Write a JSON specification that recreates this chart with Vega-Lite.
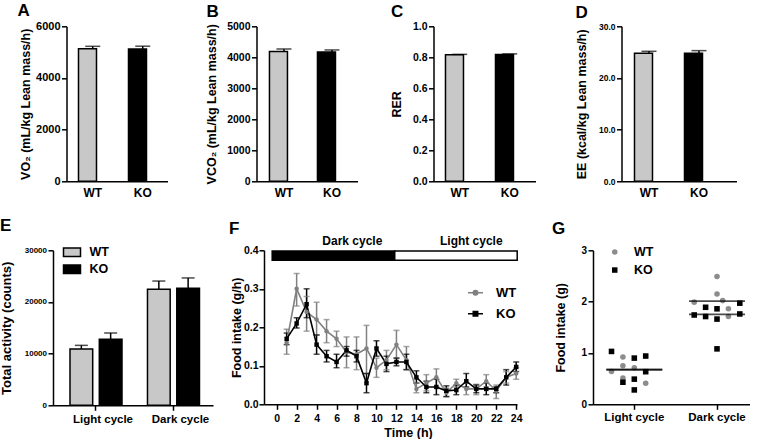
{
"$schema": "https://vega.github.io/schema/vega-lite/v6.json",
"background": "white",
"padding": {"left": 0, "top": 1.3, "right": 0, "bottom": 0},
"config": {
  "font": "Liberation Sans",
  "view": {"stroke": null},
  "axis": {"domainColor": "black", "domainWidth": 1.5, "tickColor": "black", "tickWidth": 1.5, "tickSize": 5, "labelFont": "Liberation Sans", "labelFontWeight": "bold", "labelColor": "black", "titleFont": "Liberation Sans", "titleFontWeight": "bold", "titleColor": "black", "titleFontSize": 12.5, "grid": false, "labelPadding": 1.5, "labelOverlap": false, "labelFlush": false, "labelAngle": 0},
  "legend": {"labelFont": "Liberation Sans", "labelFontWeight": "bold", "labelColor": "black", "padding": 0},
  "title": {"font": "Liberation Sans", "fontSize": 17, "fontWeight": "bold", "color": "black", "anchor": "start", "frame": "group", "baseline": "alphabetic"}
},
"spacing": 19,
"center": true,
"resolve": {"scale": {"color": "independent", "shape": "independent", "fill": "independent"}, "legend": {"color": "independent", "shape": "independent", "fill": "independent"}},
"vconcat": [
{
 "spacing": 33,
 "resolve": {"scale": {"color": "independent", "shape": "independent", "fill": "independent"}, "legend": {"color": "independent", "shape": "independent", "fill": "independent"}},
 "hconcat": [
 {
  "spacing": 38,
  "resolve": {"scale": {"color": "independent", "shape": "independent", "fill": "independent"}, "legend": {"color": "independent", "shape": "independent", "fill": "independent"}},
  "hconcat": [
  {
   "width": 101, "height": 155,
   "title": {"text": "A", "dx": -49, "offset": 0.7},
   "data": {"values": [{"g": "WT", "mean": 5130, "hi": 5225}, {"g": "KO", "mean": 5120, "hi": 5230}]},
   "encoding": {"x": {"field": "g", "type": "nominal", "title": null, "scale": {"domain": ["WT", "KO"], "paddingInner": 0.43, "paddingOuter": 0.225, "align": 0.533}, "axis": {"ticks": false, "tickSize": 0, "labelFontSize": 12, "labelPadding": 6}}},
   "layer": [
    {"mark": {"type": "bar", "stroke": "black", "strokeWidth": 1.5}, "encoding": {"y": {"field": "mean", "type": "quantitative", "stack": null, "scale": {"domain": [0, 6000], "nice": false}, "axis": {"title": "VO₂ (mL/kg Lean mass/h)", "values": [0, 2000, 4000, 6000], "tickCount": 50, "format": "d", "labelFontSize": 11, "titlePadding": 3.3}}, "color": {"field": "g", "type": "nominal", "scale": {"domain": ["WT", "KO"], "range": ["#c8c8c8", "#000000"]}, "legend": null}}},
    {"mark": {"type": "rule", "color": "black", "strokeWidth": 1.5}, "encoding": {"y": {"field": "mean", "type": "quantitative"}, "y2": {"field": "hi"}}},
    {"mark": {"type": "tick", "orient": "horizontal", "color": "black", "thickness": 1.5, "size": 15}, "encoding": {"y": {"field": "hi", "type": "quantitative"}}}
   ]
  },
  {
   "width": 101, "height": 155,
   "title": {"text": "B", "dx": -50, "offset": 0.7},
   "data": {"values": [{"g": "WT", "mean": 4184, "hi": 4268}, {"g": "KO", "mean": 4173, "hi": 4237}]},
   "encoding": {"x": {"field": "g", "type": "nominal", "title": null, "scale": {"domain": ["WT", "KO"], "paddingInner": 0.396, "paddingOuter": 0.25, "align": 0.54}, "axis": {"ticks": false, "tickSize": 0, "labelFontSize": 12, "labelPadding": 6}}},
   "layer": [
    {"mark": {"type": "bar", "stroke": "black", "strokeWidth": 1.5}, "encoding": {"y": {"field": "mean", "type": "quantitative", "stack": null, "scale": {"domain": [0, 5000], "nice": false}, "axis": {"title": "VCO₂ (mL/kg Lean mass/h)", "values": [0, 1000, 2000, 3000, 4000, 5000], "tickCount": 50, "format": "d", "labelFontSize": 10.5, "titlePadding": 7.85}}, "color": {"field": "g", "type": "nominal", "scale": {"domain": ["WT", "KO"], "range": ["#c8c8c8", "#000000"]}, "legend": null}}},
    {"mark": {"type": "rule", "color": "black", "strokeWidth": 1.5}, "encoding": {"y": {"field": "mean", "type": "quantitative"}, "y2": {"field": "hi"}}},
    {"mark": {"type": "tick", "orient": "horizontal", "color": "black", "thickness": 1.5, "size": 15}, "encoding": {"y": {"field": "hi", "type": "quantitative"}}}
   ]
  }
  ]
 },
 {
  "spacing": 40,
  "resolve": {"scale": {"color": "independent", "shape": "independent", "fill": "independent"}, "legend": {"color": "independent", "shape": "independent", "fill": "independent"}},
  "hconcat": [
  {
   "width": 102, "height": 155,
   "title": {"text": "C", "dx": -42.5, "offset": 0.7},
   "data": {"values": [{"g": "WT", "mean": 0.817, "hi": 0.819}, {"g": "KO", "mean": 0.818, "hi": 0.822}]},
   "encoding": {"x": {"field": "g", "type": "nominal", "title": null, "scale": {"domain": ["WT", "KO"], "paddingInner": 0.43, "paddingOuter": 0.235, "align": 0.51}, "axis": {"ticks": false, "tickSize": 0, "labelFontSize": 12, "labelPadding": 6}}},
   "layer": [
    {"mark": {"type": "bar", "stroke": "black", "strokeWidth": 1.5}, "encoding": {"y": {"field": "mean", "type": "quantitative", "stack": null, "scale": {"domain": [0, 1], "nice": false}, "axis": {"title": "RER", "values": [0, 0.2, 0.4, 0.6, 0.8, 1.0], "tickCount": 50, "format": ".1f", "labelFontSize": 10.5, "titlePadding": 8.9}}, "color": {"field": "g", "type": "nominal", "scale": {"domain": ["WT", "KO"], "range": ["#c8c8c8", "#000000"]}, "legend": null}}},
    {"mark": {"type": "rule", "color": "black", "strokeWidth": 1.5}, "encoding": {"y": {"field": "mean", "type": "quantitative"}, "y2": {"field": "hi"}}},
    {"mark": {"type": "tick", "orient": "horizontal", "color": "black", "thickness": 1.5, "size": 15}, "encoding": {"y": {"field": "hi", "type": "quantitative"}}}
   ]
  },
  {
   "width": 115, "height": 155,
   "title": {"text": "D", "dx": -46, "offset": 0.7},
   "data": {"values": [{"g": "WT", "mean": 24.77, "hi": 25.16}, {"g": "KO", "mean": 24.77, "hi": 25.29}]},
   "encoding": {"x": {"field": "g", "type": "nominal", "title": null, "scale": {"domain": ["WT", "KO"], "paddingInner": 0.42, "paddingOuter": 0.36, "align": 0.361}, "axis": {"ticks": false, "tickSize": 0, "labelFontSize": 12, "labelPadding": 6}}},
   "layer": [
    {"mark": {"type": "bar", "stroke": "black", "strokeWidth": 1.5}, "encoding": {"y": {"field": "mean", "type": "quantitative", "stack": null, "scale": {"domain": [0, 30], "nice": false}, "axis": {"title": "EE (kcal/kg Lean mass/h)", "values": [0, 10, 20, 30], "tickCount": 50, "format": ".1f", "labelFontSize": 8.5, "titlePadding": 9.7}}, "color": {"field": "g", "type": "nominal", "scale": {"domain": ["WT", "KO"], "range": ["#c8c8c8", "#000000"]}, "legend": null}}},
    {"mark": {"type": "rule", "color": "black", "strokeWidth": 1.5}, "encoding": {"y": {"field": "mean", "type": "quantitative"}, "y2": {"field": "hi"}}},
    {"mark": {"type": "tick", "orient": "horizontal", "color": "black", "thickness": 1.5, "size": 15}, "encoding": {"y": {"field": "hi", "type": "quantitative"}}}
   ]
  }
  ]
 }
 ]
},
{
 "spacing": 29,
 "resolve": {"scale": {"color": "independent", "shape": "independent", "fill": "independent"}, "legend": {"color": "independent", "shape": "independent", "fill": "independent"}},
 "hconcat": [
 {
  "spacing": 16,
  "resolve": {"scale": {"color": "independent", "shape": "independent", "fill": "independent"}, "legend": {"color": "independent", "shape": "independent", "fill": "independent"}},
  "hconcat": [
  {
   "width": 160, "height": 155,
   "title": {"text": "E", "dx": -53, "offset": 7.5},
   "data": {"values": [{"cycle": "Light cycle", "g": "WT", "mean": 10900, "hi": 11600}, {"cycle": "Light cycle", "g": "KO", "mean": 12800, "hi": 14000}, {"cycle": "Dark cycle", "g": "WT", "mean": 22450, "hi": 24050}, {"cycle": "Dark cycle", "g": "KO", "mean": 22650, "hi": 24650}]},
   "encoding": {
    "x": {"field": "cycle", "type": "nominal", "title": null, "scale": {"type": "band", "domain": ["Light cycle", "Dark cycle"], "paddingInner": 0.329, "paddingOuter": 0.197, "align": 0.557}, "axis": {"labelFontSize": 11.5, "labelPadding": 3.5, "labelOffset": 7}}
   },
   "layer": [
    {"transform": [{"filter": "datum.g === 'WT'"}],
     "mark": {"type": "bar", "width": 22.7, "xOffset": -14.65, "stroke": "black", "strokeWidth": 1.5},
     "encoding": {
      "y": {"field": "mean", "type": "quantitative", "stack": null, "scale": {"domain": [0, 30000], "nice": false}, "axis": {"title": "Total activity (counts)", "values": [0, 10000, 20000, 30000], "tickCount": 50, "format": "d", "labelFontSize": 8, "titleFontSize": 13, "titlePadding": 10.3}},
      "color": {"field": "g", "type": "nominal", "scale": {"domain": ["WT", "KO"], "range": ["#c8c8c8", "#000000"]}, "legend": {"orient": "none", "legendX": 9.5, "legendY": -7.5, "title": null, "symbolType": "M-1,-0.5L1,-0.5L1,0.5L-1,0.5Z", "symbolSize": 289, "labelFontSize": 12.5, "labelOffset": 8, "rowPadding": -0.5, "encode": {"symbols": {"update": {"stroke": {"value": "black"}, "strokeWidth": {"value": 1.5}}}}}}
     }},
    {"transform": [{"filter": "datum.g === 'KO'"}],
     "mark": {"type": "bar", "width": 22.7, "xOffset": 14.65, "stroke": "black", "strokeWidth": 1.5},
     "encoding": {
      "y": {"field": "mean", "type": "quantitative", "stack": null},
      "color": {"field": "g", "type": "nominal", "scale": {"domain": ["WT", "KO"], "range": ["#c8c8c8", "#000000"]}, "legend": {"orient": "none", "legendX": 9.5, "legendY": -7.5, "title": null, "symbolType": "M-1,-0.5L1,-0.5L1,0.5L-1,0.5Z", "symbolSize": 289, "labelFontSize": 12.5, "labelOffset": 8, "rowPadding": -0.5, "encode": {"symbols": {"update": {"stroke": {"value": "black"}, "strokeWidth": {"value": 1.5}}}}}}
     }},
    {"transform": [{"filter": "datum.g === 'WT'"}],
     "mark": {"type": "rule", "xOffset": -14.65, "color": "black", "strokeWidth": 1.5},
     "encoding": {"y": {"field": "mean", "type": "quantitative"}, "y2": {"field": "hi"}}},
    {"transform": [{"filter": "datum.g === 'KO'"}],
     "mark": {"type": "rule", "xOffset": 14.65, "color": "black", "strokeWidth": 1.5},
     "encoding": {"y": {"field": "mean", "type": "quantitative"}, "y2": {"field": "hi"}}},
    {"transform": [{"filter": "datum.g === 'WT'"}],
     "mark": {"type": "tick", "orient": "horizontal", "xOffset": -14.65, "color": "black", "thickness": 1.5, "size": 13},
     "encoding": {"y": {"field": "hi", "type": "quantitative"}}},
    {"transform": [{"filter": "datum.g === 'KO'"}],
     "mark": {"type": "tick", "orient": "horizontal", "xOffset": 14.65, "color": "black", "thickness": 1.5, "size": 13},
     "encoding": {"y": {"field": "hi", "type": "quantitative"}}}
   ]
  },
  {
   "width": 253, "height": 154,
   "title": {"text": "F", "dx": -35, "dy": 5.1, "offset": 1.5},
   "layer": [
    {"data": {"values": [{"phase": "Dark", "x0": -0.45, "x1": 11.83, "y0": 0.374, "y1": 0.398}, {"phase": "Light", "x0": 11.83, "x1": 24.1, "y0": 0.374, "y1": 0.398}]},
     "mark": {"type": "rect", "stroke": "black", "strokeWidth": 1.5},
     "encoding": {
      "x": {"field": "x0", "type": "quantitative", "scale": {"domain": [-1.27, 24.08], "nice": false, "zero": false}, "axis": {"title": "Time (h)", "values": [0, 2, 4, 6, 8, 10, 12, 14, 16, 18, 20, 22, 24], "tickCount": 50, "format": "d", "labelFontSize": 10.5, "labelPadding": 4, "titlePadding": 3, "titleX": 144}},
      "x2": {"field": "x1"},
      "y": {"field": "y0", "type": "quantitative", "scale": {"domain": [0, 0.4], "nice": false}, "axis": {"title": "Food intake (g/h)", "values": [0, 0.1, 0.2, 0.3, 0.4], "tickCount": 50, "format": ".1f", "labelFontSize": 10.5, "labelPadding": 1, "titlePadding": 0}},
      "y2": {"field": "y1"},
      "fill": {"field": "phase", "type": "nominal", "scale": {"domain": ["Dark", "Light"], "range": ["#000000", "#ffffff"]}, "legend": null}
     }},
    {"data": {"values": [{"label": "Dark cycle", "lx": 7.58, "ly": 0.415}, {"label": "Light cycle", "lx": 19.5, "ly": 0.415}]},
     "mark": {"type": "text", "fontSize": 12, "fontWeight": "bold", "baseline": "alphabetic", "align": "center", "color": "black"},
     "encoding": {"x": {"field": "lx", "type": "quantitative"}, "y": {"field": "ly", "type": "quantitative"}, "text": {"field": "label"}}},
    {"data": {"name": "fs"}, "mark": {"type": "rule", "strokeWidth": 1.5},
     "encoding": {"x": {"field": "h", "type": "quantitative"}, "y": {"field": "lo", "type": "quantitative"}, "y2": {"field": "hi"}, "color": {"field": "g", "type": "nominal", "scale": {"domain": ["WT", "KO"], "range": ["#808080", "#000000"]}, "legend": {"orient": "none", "legendX": 203, "legendY": 34, "title": null, "symbolSize": 225, "labelFontSize": 13, "labelOffset": 12, "rowPadding": 5, "encode": {"symbols": {"update": {"shape": {"signal": "datum.value === 'WT' ? 'M-1,0L1,0M-0.3,0A0.3,0.3,0,1,1,0.3,0A0.3,0.3,0,1,1,-0.3,0Z' : 'M-1,0L1,0M-0.3,-0.3L0.3,-0.3L0.3,0.3L-0.3,0.3Z'"}, "fill": {"signal": "datum.value === 'WT' ? '#808080' : '#000000'"}, "stroke": {"signal": "datum.value === 'WT' ? '#808080' : '#000000'"}, "strokeWidth": {"value": 1.5}, "opacity": {"value": 1}}}}}}}},
    {"data": {"name": "fs"}, "mark": {"type": "tick", "orient": "horizontal", "thickness": 1.5, "size": 6},
     "encoding": {"x": {"field": "h", "type": "quantitative"}, "y": {"field": "lo", "type": "quantitative"}, "color": {"field": "g", "type": "nominal", "scale": {"domain": ["WT", "KO"], "range": ["#808080", "#000000"]}, "legend": {"orient": "none", "legendX": 203, "legendY": 34, "title": null, "symbolSize": 225, "labelFontSize": 13, "labelOffset": 12, "rowPadding": 5, "encode": {"symbols": {"update": {"shape": {"signal": "datum.value === 'WT' ? 'M-1,0L1,0M-0.3,0A0.3,0.3,0,1,1,0.3,0A0.3,0.3,0,1,1,-0.3,0Z' : 'M-1,0L1,0M-0.3,-0.3L0.3,-0.3L0.3,0.3L-0.3,0.3Z'"}, "fill": {"signal": "datum.value === 'WT' ? '#808080' : '#000000'"}, "stroke": {"signal": "datum.value === 'WT' ? '#808080' : '#000000'"}, "strokeWidth": {"value": 1.5}, "opacity": {"value": 1}}}}}}}},
    {"data": {"name": "fs"}, "mark": {"type": "tick", "orient": "horizontal", "thickness": 1.5, "size": 6},
     "encoding": {"x": {"field": "h", "type": "quantitative"}, "y": {"field": "hi", "type": "quantitative"}, "color": {"field": "g", "type": "nominal", "scale": {"domain": ["WT", "KO"], "range": ["#808080", "#000000"]}, "legend": {"orient": "none", "legendX": 203, "legendY": 34, "title": null, "symbolSize": 225, "labelFontSize": 13, "labelOffset": 12, "rowPadding": 5, "encode": {"symbols": {"update": {"shape": {"signal": "datum.value === 'WT' ? 'M-1,0L1,0M-0.3,0A0.3,0.3,0,1,1,0.3,0A0.3,0.3,0,1,1,-0.3,0Z' : 'M-1,0L1,0M-0.3,-0.3L0.3,-0.3L0.3,0.3L-0.3,0.3Z'"}, "fill": {"signal": "datum.value === 'WT' ? '#808080' : '#000000'"}, "stroke": {"signal": "datum.value === 'WT' ? '#808080' : '#000000'"}, "strokeWidth": {"value": 1.5}, "opacity": {"value": 1}}}}}}}},
    {"data": {"name": "fs"}, "mark": {"type": "line", "strokeWidth": 1.6},
     "encoding": {"x": {"field": "h", "type": "quantitative"}, "y": {"field": "m", "type": "quantitative"}, "color": {"field": "g", "type": "nominal", "scale": {"domain": ["WT", "KO"], "range": ["#808080", "#000000"]}, "legend": {"orient": "none", "legendX": 203, "legendY": 34, "title": null, "symbolSize": 225, "labelFontSize": 13, "labelOffset": 12, "rowPadding": 5, "encode": {"symbols": {"update": {"shape": {"signal": "datum.value === 'WT' ? 'M-1,0L1,0M-0.3,0A0.3,0.3,0,1,1,0.3,0A0.3,0.3,0,1,1,-0.3,0Z' : 'M-1,0L1,0M-0.3,-0.3L0.3,-0.3L0.3,0.3L-0.3,0.3Z'"}, "fill": {"signal": "datum.value === 'WT' ? '#808080' : '#000000'"}, "stroke": {"signal": "datum.value === 'WT' ? '#808080' : '#000000'"}, "strokeWidth": {"value": 1.5}, "opacity": {"value": 1}}}}}}}},
    {"data": {"name": "fs"}, "transform": [{"filter": "datum.g === 'WT'"}], "mark": {"type": "point", "shape": "circle", "filled": true, "opacity": 1, "size": 20, "color": "#808080"},
     "encoding": {"x": {"field": "h", "type": "quantitative"}, "y": {"field": "m", "type": "quantitative"}}},
    {"data": {"name": "fs"}, "transform": [{"filter": "datum.g === 'KO'"}], "mark": {"type": "point", "shape": "square", "filled": true, "opacity": 1, "size": 20, "color": "#000000"},
     "encoding": {"x": {"field": "h", "type": "quantitative"}, "y": {"field": "m", "type": "quantitative"}}}
   ]
  }
  ]
 },
 {
  "width": 157, "height": 154,
  "title": {"text": "G", "dx": -41, "dy": 2.3, "offset": 9.5},
  "encoding": {"x": {"field": "cat", "type": "nominal", "title": null, "scale": {"domain": ["Light cycle", "Dark cycle"], "paddingInner": 0.311, "paddingOuter": 0.1047, "align": 0.74}, "axis": {"labelFontSize": 11.5, "labelPadding": 2.7}}},
  "layer": [
   {"data": {"values": [
     {"cat": "Light cycle", "g": "KO", "col": -2, "v": 1.03},
     {"cat": "Light cycle", "g": "WT", "col": -1, "v": 0.92},
     {"cat": "Light cycle", "g": "KO", "col": 0, "v": 0.90},
     {"cat": "Light cycle", "g": "KO", "col": 1, "v": 0.94},
     {"cat": "Light cycle", "g": "WT", "col": -1, "v": 0.75},
     {"cat": "Light cycle", "g": "WT", "col": 0, "v": 0.71},
     {"cat": "Light cycle", "g": "WT", "col": -2, "v": 0.64},
     {"cat": "Light cycle", "g": "KO", "col": 1, "v": 0.635},
     {"cat": "Light cycle", "g": "WT", "col": -1, "v": 0.51},
     {"cat": "Light cycle", "g": "KO", "col": 0, "v": 0.49},
     {"cat": "Light cycle", "g": "KO", "col": -1, "v": 0.43},
     {"cat": "Light cycle", "g": "WT", "col": 1, "v": 0.41},
     {"cat": "Light cycle", "g": "KO", "col": 0, "v": 0.28},
     {"cat": "Dark cycle", "g": "WT", "col": 0, "v": 2.49},
     {"cat": "Dark cycle", "g": "WT", "col": 0, "v": 2.15},
     {"cat": "Dark cycle", "g": "WT", "col": -2, "v": 1.99},
     {"cat": "Dark cycle", "g": "WT", "col": 0.5, "v": 2.02},
     {"cat": "Dark cycle", "g": "KO", "col": -1, "v": 1.89},
     {"cat": "Dark cycle", "g": "KO", "col": 0, "v": 1.86},
     {"cat": "Dark cycle", "g": "WT", "col": 1, "v": 1.86},
     {"cat": "Dark cycle", "g": "KO", "col": 2, "v": 1.97},
     {"cat": "Dark cycle", "g": "KO", "col": -2, "v": 1.74},
     {"cat": "Dark cycle", "g": "KO", "col": -1, "v": 1.71},
     {"cat": "Dark cycle", "g": "KO", "col": 0, "v": 1.66},
     {"cat": "Dark cycle", "g": "WT", "col": 1, "v": 1.71},
     {"cat": "Dark cycle", "g": "KO", "col": 2, "v": 1.76},
     {"cat": "Dark cycle", "g": "KO", "col": 0, "v": 1.08}
    ]},
    "mark": {"type": "point", "filled": true, "opacity": 1, "size": 31},
    "encoding": {
     "xOffset": {"field": "col", "type": "ordinal", "scale": {"type": "point", "domain": [-2, -1.5, -1, -0.5, 0, 0.5, 1, 1.5, 2], "padding": 2.16}},
     "y": {"field": "v", "type": "quantitative", "scale": {"domain": [0, 3], "nice": false}, "axis": {"title": "Food intake (g)", "values": [0, 1, 2, 3], "tickCount": 50, "format": "d", "labelFontSize": 10, "titlePadding": 13.3}},
     "color": {"field": "g", "type": "nominal", "scale": {"domain": ["WT", "KO"], "range": ["#8c8c8c", "#000000"]}, "legend": {"orient": "none", "legendX": 15.5, "legendY": -4.5, "title": null, "symbolSize": 30, "labelFontSize": 12.5, "labelOffset": 13, "rowPadding": 5}},
     "shape": {"field": "g", "type": "nominal", "scale": {"domain": ["WT", "KO"], "range": ["circle", "square"]}, "legend": {"orient": "none", "legendX": 15.5, "legendY": -4.5, "title": null, "symbolSize": 30, "labelFontSize": 12.5, "labelOffset": 13, "rowPadding": 5}}
    }},
   {"data": {"values": [
     {"cat": "Light cycle", "g": "WT", "mean": 0.67},
     {"cat": "Light cycle", "g": "KO", "mean": 0.68},
     {"cat": "Dark cycle", "g": "WT", "mean": 2.01},
     {"cat": "Dark cycle", "g": "KO", "mean": 1.75}
    ]},
    "mark": {"type": "tick", "orient": "horizontal", "color": "black", "thickness": 1.8, "size": 56},
    "encoding": {"y": {"field": "mean", "type": "quantitative"}}}
  ]
 }
 ]
}
],
"datasets": {
 "fs": [
  {"h": 1, "g": "WT", "m": 0.160, "lo": 0.130, "hi": 0.195},
  {"h": 2, "g": "WT", "m": 0.300, "lo": 0.255, "hi": 0.340},
  {"h": 3, "g": "WT", "m": 0.240, "lo": 0.190, "hi": 0.280},
  {"h": 4, "g": "WT", "m": 0.220, "lo": 0.180, "hi": 0.265},
  {"h": 5, "g": "WT", "m": 0.190, "lo": 0.160, "hi": 0.220},
  {"h": 6, "g": "WT", "m": 0.170, "lo": 0.150, "hi": 0.190},
  {"h": 7, "g": "WT", "m": 0.135, "lo": 0.095, "hi": 0.175},
  {"h": 8, "g": "WT", "m": 0.130, "lo": 0.090, "hi": 0.175},
  {"h": 9, "g": "WT", "m": 0.145, "lo": 0.080, "hi": 0.205},
  {"h": 10, "g": "WT", "m": 0.095, "lo": 0.070, "hi": 0.120},
  {"h": 11, "g": "WT", "m": 0.115, "lo": 0.090, "hi": 0.140},
  {"h": 12, "g": "WT", "m": 0.155, "lo": 0.120, "hi": 0.192},
  {"h": 13, "g": "WT", "m": 0.115, "lo": 0.090, "hi": 0.150},
  {"h": 14, "g": "WT", "m": 0.040, "lo": 0.030, "hi": 0.055},
  {"h": 15, "g": "WT", "m": 0.055, "lo": 0.035, "hi": 0.077},
  {"h": 16, "g": "WT", "m": 0.070, "lo": 0.045, "hi": 0.092},
  {"h": 17, "g": "WT", "m": 0.030, "lo": 0.020, "hi": 0.042},
  {"h": 18, "g": "WT", "m": 0.055, "lo": 0.045, "hi": 0.065},
  {"h": 19, "g": "WT", "m": 0.040, "lo": 0.025, "hi": 0.055},
  {"h": 20, "g": "WT", "m": 0.040, "lo": 0.025, "hi": 0.052},
  {"h": 21, "g": "WT", "m": 0.060, "lo": 0.045, "hi": 0.077},
  {"h": 22, "g": "WT", "m": 0.035, "lo": 0.015, "hi": 0.050},
  {"h": 23, "g": "WT", "m": 0.070, "lo": 0.055, "hi": 0.085},
  {"h": 24, "g": "WT", "m": 0.080, "lo": 0.065, "hi": 0.095},
  {"h": 1, "g": "KO", "m": 0.170, "lo": 0.155, "hi": 0.185},
  {"h": 2, "g": "KO", "m": 0.210, "lo": 0.198, "hi": 0.225},
  {"h": 3, "g": "KO", "m": 0.260, "lo": 0.225, "hi": 0.300},
  {"h": 4, "g": "KO", "m": 0.155, "lo": 0.130, "hi": 0.180},
  {"h": 5, "g": "KO", "m": 0.125, "lo": 0.110, "hi": 0.140},
  {"h": 6, "g": "KO", "m": 0.110, "lo": 0.095, "hi": 0.130},
  {"h": 7, "g": "KO", "m": 0.140, "lo": 0.125, "hi": 0.150},
  {"h": 8, "g": "KO", "m": 0.125, "lo": 0.110, "hi": 0.140},
  {"h": 9, "g": "KO", "m": 0.055, "lo": 0.030, "hi": 0.080},
  {"h": 10, "g": "KO", "m": 0.145, "lo": 0.125, "hi": 0.165},
  {"h": 11, "g": "KO", "m": 0.105, "lo": 0.085, "hi": 0.125},
  {"h": 12, "g": "KO", "m": 0.110, "lo": 0.100, "hi": 0.120},
  {"h": 13, "g": "KO", "m": 0.110, "lo": 0.090, "hi": 0.130},
  {"h": 14, "g": "KO", "m": 0.070, "lo": 0.055, "hi": 0.087},
  {"h": 15, "g": "KO", "m": 0.045, "lo": 0.030, "hi": 0.060},
  {"h": 16, "g": "KO", "m": 0.045, "lo": 0.025, "hi": 0.065},
  {"h": 17, "g": "KO", "m": 0.035, "lo": 0.020, "hi": 0.048},
  {"h": 18, "g": "KO", "m": 0.037, "lo": 0.025, "hi": 0.050},
  {"h": 19, "g": "KO", "m": 0.060, "lo": 0.045, "hi": 0.080},
  {"h": 20, "g": "KO", "m": 0.040, "lo": 0.030, "hi": 0.050},
  {"h": 21, "g": "KO", "m": 0.040, "lo": 0.025, "hi": 0.055},
  {"h": 22, "g": "KO", "m": 0.040, "lo": 0.030, "hi": 0.045},
  {"h": 23, "g": "KO", "m": 0.070, "lo": 0.050, "hi": 0.090},
  {"h": 24, "g": "KO", "m": 0.097, "lo": 0.085, "hi": 0.110}
 ]
}
}
